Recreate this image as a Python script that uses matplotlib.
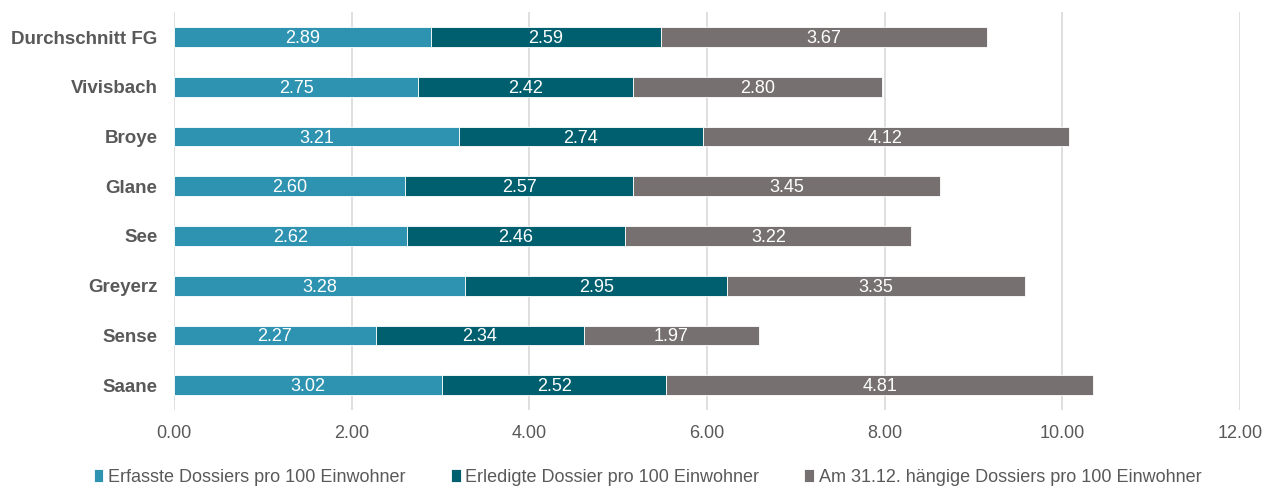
import matplotlib.pyplot as plt
import numpy as np

plt.rcParams['font.family'] = ['Liberation Sans', 'DejaVu Sans']

categories = ['Durchschnitt FG', 'Vivisbach', 'Broye', 'Glane', 'See',
              'Greyerz', 'Sense', 'Saane']
erfasste = [2.89, 2.75, 3.21, 2.60, 2.62, 3.28, 2.27, 3.02]
erledigte = [2.59, 2.42, 2.74, 2.57, 2.46, 2.95, 2.34, 2.52]
haengige = [3.67, 2.80, 4.12, 3.45, 3.22, 3.35, 1.97, 4.81]
series_names = ['Erfasste Dossiers pro 100 Einwohner',
                'Erledigte Dossier pro 100 Einwohner',
                'Am 31.12. hängige Dossiers pro 100 Einwohner']
colors = ['#2E93B0', '#005F6E', '#767170']

fig = plt.figure(figsize=(12.67, 4.87), dpi=100)
ax = fig.add_axes([0.1373, 0.158, 0.8414, 0.817])

y = np.arange(len(categories))[::-1]
left = np.zeros(len(categories))
for vals, name, col in zip([erfasste, erledigte, haengige], series_names, colors):
    vals = np.array(vals)
    bars = ax.barh(y, vals, left=left, height=0.4, color=col, label=name,
                   edgecolor='white', linewidth=0.6, zorder=3)
    for b, v in zip(bars, vals):
        ax.text(b.get_x() + b.get_width() / 2, b.get_y() + b.get_height() / 2 - 0.03,
                f'{v:.2f}', ha='center', va='center', color='white',
                fontsize=13, zorder=4)
    left += vals

ax.set_xlim(0, 12)
ax.set_ylim(-0.5, len(categories) - 0.5)
ax.set_xticks(np.arange(0, 13, 2))
ax.set_xticklabels([f'{t:.2f}' for t in np.arange(0, 13, 2)])
ax.set_yticks(y)
ax.set_yticklabels(categories, fontweight='bold')
ax.tick_params(axis='both', length=0, colors='#595959', labelsize=13)
ax.tick_params(axis='y', labelsize=13.5, pad=12)
ax.tick_params(axis='x', pad=11)
ax.grid(axis='x', color='#D9D9D9', linewidth=1.2, zorder=0)
for s in ax.spines.values():
    s.set_visible(False)

leg = fig.legend(*ax.get_legend_handles_labels(), loc='center',
                 bbox_to_anchor=(0.511, 0.02), ncol=3, frameon=False,
                 fontsize=13, handlelength=0.55, handleheight=0.7,
                 handletextpad=0.25, columnspacing=2.5, borderpad=0)
for t in leg.get_texts():
    t.set_color('#595959')

fig.savefig('out.png', dpi=100)
